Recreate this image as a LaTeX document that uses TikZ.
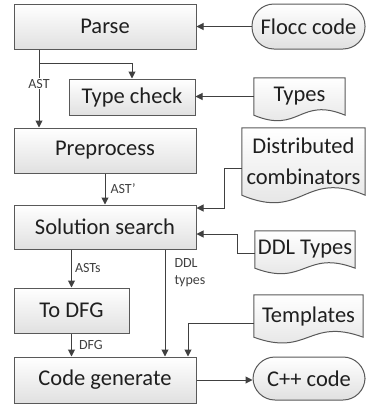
\documentclass[tikz,border=0pt]{standalone}
\usepackage{fontspec}
\setmainfont{Carlito}
\usetikzlibrary{arrows.meta,backgrounds,calc}

\definecolor{edgegray}{HTML}{595959}
\definecolor{linegray}{HTML}{404040}
\definecolor{txtgray}{HTML}{1F1F1F}

\tikzset{
  boxshade/.style={top color=white, bottom color=black!12, draw=edgegray, line width=1pt},
  procbox/.style={boxshade, rectangle, inner sep=0pt, text=txtgray, font=\fontsize{22.5}{31}\selectfont},
  termbox/.style={procbox, rounded corners=22pt},
  docbox/.style={rectangle, inner sep=0pt, align=center, text=txtgray, font=\fontsize{22.5}{31}\selectfont},
  conn/.style={draw=linegray, line width=1pt, -{Triangle[length=7pt,width=7pt]}},
  midlab/.style={fill=white, inner sep=1pt, text=linegray, font=\fontsize{14}{17}\selectfont},
  sidelab/.style={midlab, fill=none, anchor=west}
}

% document symbol with a wavy bottom edge
\newcommand{\docwave}[2]{%
  \path[boxshade] (#1.north west) -- (#1.north east) -- (#1.south east)
    .. controls ($(#1.south east)!0.5!(#1.south west)+(0,-#2)$)
    and ($(#1.south east)!0.5!(#1.south west)+(0,#2)$) .. (#1.south west) -- cycle;}

\begin{document}
\begin{tikzpicture}[x=1pt, y=-1pt]
  \useasboundingbox (0,0) rectangle (366,405);

  % steps
  \node[procbox, minimum width=182pt, minimum height=45pt] (parse) at (105,26.5) {Parse};
  \node[procbox, minimum width=126pt, minimum height=36pt] (tcheck) at (132,97) {Type check};
  \node[procbox, minimum width=182pt, minimum height=45pt] (prep) at (105,150.5) {Preprocess};
  \node[procbox, minimum width=182pt, minimum height=44pt] (ssearch) at (105,227) {Solution search};
  \node[procbox, minimum width=115pt, minimum height=45pt] (todfg) at (71.5,310.5) {To DFG};
  \node[procbox, minimum width=182pt, minimum height=46pt] (codegen) at (105,380) {Code generate};

  % inputs and outputs
  \node[termbox, minimum width=113pt, minimum height=45pt] (flocc) at (308.5,26.5) {Flocc code};
  \node[termbox, minimum width=112pt, minimum height=43pt] (cpp) at (309,378.5) {C++ code};
  \node[docbox, minimum width=91pt, minimum height=37pt] (types) at (299.5,96.5) {Types};
  \node[docbox, minimum width=123pt, minimum height=67pt] (dist) at (303.5,161.5) {Distributed\\combinators};
  \node[docbox, minimum width=100pt, minimum height=37pt] (ddl) at (305,249.5) {DDL Types};
  \node[docbox, minimum width=109pt, minimum height=42pt] (templ) at (308.5,316) {Templates};

  \begin{scope}[on background layer]
    \docwave{types}{19}
    \docwave{dist}{26}
    \docwave{ddl}{19}
    \docwave{templ}{20}
  \end{scope}

  % flow
  \coordinate (astx) at ([xshift=-66pt]parse.south);
  \draw[conn] (astx) -- node[midlab, pos=0.44] {AST} (astx |- prep.north);
  \draw[conn] ([yshift=-14pt]astx) -| (tcheck.north);
  \draw[conn] (flocc.west) -- (parse.east);
  \draw[conn] (types.west) -- (types.west -| tcheck.east);
  \draw[conn] (prep.south) -- node[sidelab, xshift=4pt] {AST’} (ssearch.north);
  \draw[conn] ([yshift=-6.5pt]dist.west) -- ++(-17,0) |- ([yshift=19pt]ssearch.east);
  \draw[conn] ([yshift=-3.5pt]ddl.west) -- ++(-17,0) |- ([yshift=-7pt]ssearch.east);
  \draw[conn] (todfg.north |- ssearch.south) -- node[sidelab, xshift=2pt] {ASTs} (todfg.north);
  \draw[conn] ([xshift=60pt]ssearch.south) -- node[sidelab, align=left, xshift=8pt, pos=0.22] {DDL\\types} ([xshift=60pt]codegen.north);
  \draw[conn] (todfg.south) -- node[sidelab, xshift=6pt] {DFG} (todfg.south |- codegen.north);
  \draw[conn] ([yshift=-7pt]templ.west) -| ([xshift=83pt]codegen.north);
  \draw[conn] (codegen.east) -- (codegen.east -| cpp.west);
\end{tikzpicture}
\end{document}
